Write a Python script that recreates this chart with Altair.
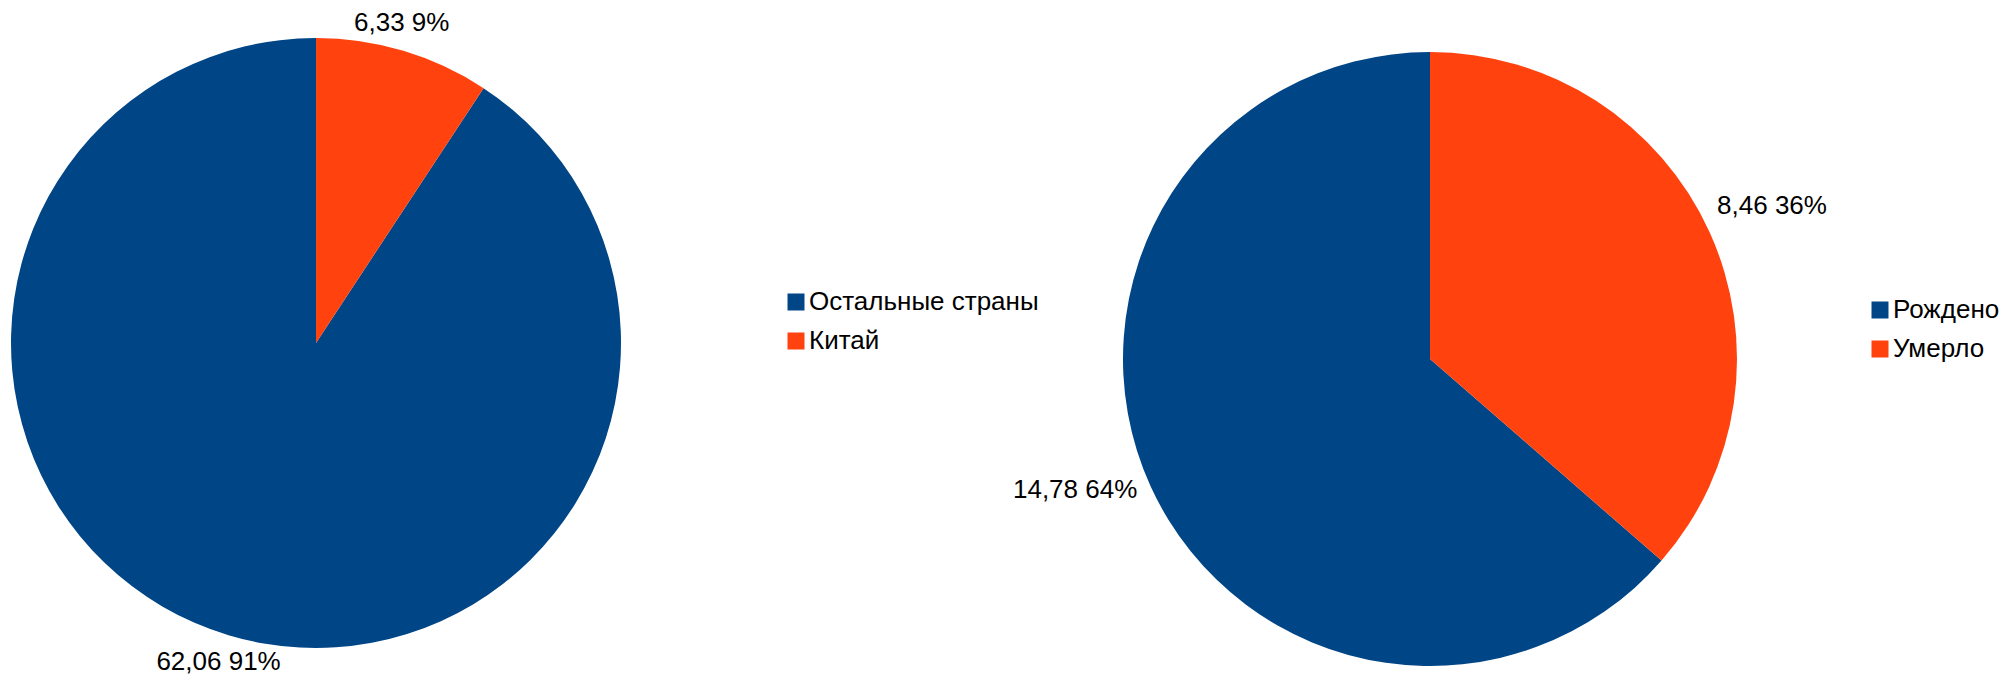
import altair as alt
import pandas as pd

# Data
cats_world = ["Остальные страны", "Китай"]
vals_world = [62.06, 6.33]
cats_pop = ["Рождено", "Умерло"]
vals_pop = [14.78, 8.46]
palette = ["#004586", "#FF420E"]

FONT = "Liberation Sans"
W, H = 1992, 668


def pie_layers(cats, vals, cx, cy, r, lx, ly):
    df = pd.DataFrame({"cat": cats, "value": vals})
    base = alt.Chart(df).transform_joinaggregate(
        total="sum(value)"
    ).transform_window(
        cum="sum(value)", sort=[alt.SortField("value", order="ascending")]
    ).transform_calculate(
        label="replace(format(datum.value, '.2f'), '.', ',') + ' ' + format(datum.value / datum.total, '.0%')",
        a="2 * PI * (datum.cum - datum.value / 2) / datum.total",
    ).encode(
        theta=alt.Theta("value:Q", stack=True),
        order=alt.Order("value:Q", sort="ascending"),
    )
    arc = base.mark_arc(radius=r).encode(
        x=alt.value(cx),
        y=alt.value(cy),
        color=alt.Color(
            "cat:N",
            sort=cats,
            scale=alt.Scale(domain=cats, range=palette),
            legend=alt.Legend(
                title=None,
                orient="none",
                legendX=lx,
                legendY=ly,
                symbolType="square",
                symbolSize=289,
                symbolStrokeWidth=0,
                labelFont=FONT,
                labelFontSize=26,
                labelColor="black",
                labelOffset=0,
                labelLimit=500,
                rowPadding=13,
                padding=0,
            ),
        ),
    )
    # label anchored just outside the slice, aligned by direction (office-style)
    text = base.mark_text(
        fontSize=26,
        font=FONT,
        color="black",
        dx=-6,
        dy=alt.expr("(cos(datum.a) > 0.383 && abs(sin(datum.a)) > 0.383) ? -7 : 0"),
        radius=alt.expr(
            f"cos(datum.a) > 0 ? {r + 15} : (abs(sin(datum.a)) <= 0.383 ? {r + 14} : {r + 8})"
        ),
        align=alt.expr(
            "sin(datum.a) > 0.383 ? 'left' : (sin(datum.a) < -0.383 ? 'right' : 'center')"
        ),
        baseline=alt.expr(
            "cos(datum.a) > 0.383 ? 'bottom' : "
            "((cos(datum.a) < -0.383 && abs(sin(datum.a)) <= 0.383) ? 'top' : 'middle')"
        ),
    ).encode(
        x=alt.value(cx),
        y=alt.value(cy),
        text="label:N",
    )
    return [arc, text]


layers = pie_layers(cats_world, vals_world, 308, 335, 305, 775, 281) + \
    pie_layers(cats_pop, vals_pop, 1422, 351, 307, 1859, 289)

chart = alt.layer(*layers).resolve_scale(
    color="independent", theta="independent"
).properties(
    width=W, height=H, padding=0, background="white",
    autosize=alt.AutoSizeParams(type="none"),
).configure_view(stroke=None)

chart.save("out.html", embed_options={"renderer": "svg", "actions": False})
